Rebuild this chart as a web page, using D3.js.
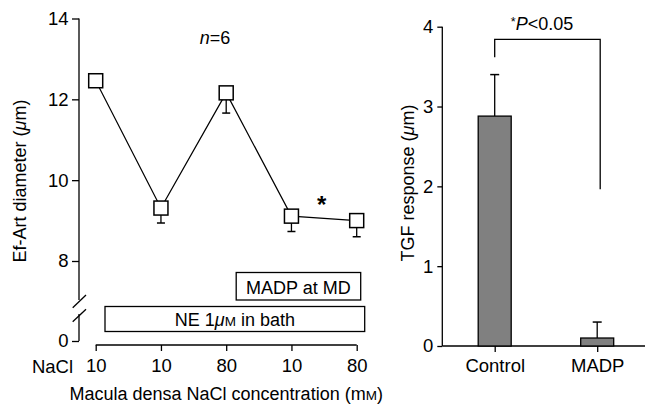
<!DOCTYPE html>
<html><head><meta charset="utf-8">
<script src="https://cdn.jsdelivr.net/npm/d3@7"></script>
<style>
html,body{margin:0;padding:0;background:#fff;}
svg text{font-family:"Liberation Sans",Arial,Helvetica,sans-serif;fill:#000;}
</style></head>
<body>
<svg id="c" width="645" height="404"></svg>
<script>
// ---- data ----
const naclLabels = ["10","10","80","10","80"];
const diameter = [12.46, 9.31, 12.16, 9.11, 9.0];
const diameterSem = [0.1, 0.37, 0.5, 0.38, 0.4];
const yTicksLeft = [0, 8, 10, 12, 14];
const groups = ["Control", "MADP"];
const tgf = [2.88, 0.1];
const tgfSem = [0.52, 0.2];
const yTicksRight = [0, 1, 2, 3, 4];

const svg = d3.select("#c");
const FS = 18.5;
const LF = 18;

// ---- left panel ----
const idx = d3.range(naclLabels.length);
const xL = d3.scalePoint().domain(idx).range([95.7, 356.7]);
const yL = d3.scaleLinear().domain([0, 8, 14]).range([341, 261, 18.5]);
const axisX = 79;

const gyL = svg.append("g").attr("transform", `translate(${axisX},0)`)
  .call(d3.axisLeft(yL).tickValues(yTicksLeft).tickSize(7).tickPadding(3.5).tickFormat(d3.format("d")));
gyL.select(".domain").remove();
gyL.selectAll(".tick line").attr("stroke", "#000").attr("stroke-width", 1.3);
gyL.selectAll(".tick text").attr("font-size", FS).attr("font-family", "Liberation Sans, Arial, sans-serif");
svg.append("line").attr("x1", axisX).attr("x2", axisX).attr("y1", yL(14)).attr("y2", 300)
  .attr("stroke", "#000").attr("stroke-width", 1.3);
svg.append("line").attr("x1", axisX).attr("x2", axisX).attr("y1", 314).attr("y2", yL(0))
  .attr("stroke", "#000").attr("stroke-width", 1.3);
[[307.7, 295], [321.7, 309.3]].forEach(([ya, yb]) => {
  svg.append("line").attr("x1", 72.7).attr("y1", ya).attr("x2", 86).attr("y2", yb)
    .attr("stroke", "#000").attr("stroke-width", 1.3);
});

const gxL = svg.append("g").attr("transform", "translate(0,345)")
  .call(d3.axisBottom(xL).tickSize(6).tickPadding(8).tickFormat(i => naclLabels[i]));
gxL.select(".domain").attr("stroke", "#000").attr("stroke-width", 1.3)
  .attr("d", `M${xL(0)},0H${xL(4)}`);
gxL.selectAll(".tick line").attr("stroke", "#000").attr("stroke-width", 1.3);
gxL.selectAll(".tick text").attr("font-size", FS).attr("font-family", "Liberation Sans, Arial, sans-serif");
svg.append("text").attr("x", 73).attr("y", 372.5).attr("text-anchor", "end")
  .attr("font-size", FS).text("NaCl");

const xt = svg.append("text").attr("x", xL(2)).attr("y", 400).attr("text-anchor", "middle")
  .attr("font-size", LF);
xt.append("tspan").text("Macula densa NaCl concentration (m");
xt.append("tspan").attr("font-size", 13.5).text("M");
xt.append("tspan").text(")");

const yt = svg.append("text").attr("transform", "translate(26,181) rotate(-90)")
  .attr("text-anchor", "middle").attr("font-size", LF);
yt.append("tspan").text("Ef-Art diameter (");
yt.append("tspan").attr("font-style", "italic").text("μ");
yt.append("tspan").text("m)");

// condition boxes
svg.append("rect").attr("x", xL(2) + 10).attr("y", 272.5).attr("width", 124.5).attr("height", 27.5)
  .attr("fill", "#fff").attr("stroke", "#000").attr("stroke-width", 1.3);
svg.append("text").attr("x", xL(2) + 10 + 62.2).attr("y", 294).attr("text-anchor", "middle")
  .attr("font-size", LF).text("MADP at MD");
svg.append("rect").attr("x", xL(0) + 9.3).attr("y", 306.5).attr("width", 259.7).attr("height", 25)
  .attr("fill", "#fff").attr("stroke", "#000").attr("stroke-width", 1.3);
const ne = svg.append("text").attr("x", (xL(0) + 9.3 + xL(0) + 269) / 2).attr("y", 326)
  .attr("text-anchor", "middle").attr("font-size", LF);
ne.append("tspan").text("NE 1");
ne.append("tspan").attr("font-style", "italic").text("μ");
ne.append("tspan").attr("font-size", 13.5).text("M");
ne.append("tspan").text(" in bath");

idx.forEach(i => {
  const cx = xL(i), y0 = yL(diameter[i]), y1 = yL(diameter[i] - diameterSem[i]);
  svg.append("line").attr("x1", cx).attr("x2", cx).attr("y1", y0).attr("y2", y1)
    .attr("stroke", "#000").attr("stroke-width", 1.3);
  svg.append("line").attr("x1", cx - 4).attr("x2", cx + 4).attr("y1", y1).attr("y2", y1)
    .attr("stroke", "#000").attr("stroke-width", 1.5);
});
svg.append("path").datum(idx)
  .attr("d", d3.line().x(i => xL(i)).y(i => yL(diameter[i])))
  .attr("fill", "none").attr("stroke", "#000").attr("stroke-width", 1.2);
svg.selectAll("rect.mk").data(idx).join("rect").attr("class", "mk")
  .attr("x", i => xL(i) - 7).attr("y", i => yL(diameter[i]) - 7)
  .attr("width", 14).attr("height", 14)
  .attr("fill", "#fff").attr("stroke", "#000").attr("stroke-width", 1.5);

const nt = svg.append("text").attr("x", 215).attr("y", 44).attr("text-anchor", "middle").attr("font-size", LF);
nt.append("tspan").attr("font-style", "italic").text("n");
nt.append("tspan").text("=6");
svg.append("text").attr("x", (xL(3) + xL(4)) / 2 - 2.5).attr("y", 213).attr("text-anchor", "middle")
  .attr("font-size", 24).attr("font-weight", "bold").text("*");

// ---- right panel ----
const xR = d3.scalePoint().domain(groups).range([494.7, 597.2]);
const yR = d3.scaleLinear().domain([0, 4]).range([346, 26.7]);
const rAxisX = 442.3;
const gyR = svg.append("g").attr("transform", `translate(${rAxisX},0)`)
  .call(d3.axisLeft(yR).tickValues(yTicksRight).tickSize(5).tickPadding(4).tickFormat(d3.format("d")));
gyR.select(".domain").attr("stroke", "#000").attr("stroke-width", 1.3)
  .attr("d", `M0,${yR(4)}V${yR(0)}`);
gyR.selectAll(".tick line").attr("stroke", "#000").attr("stroke-width", 1.3);
gyR.selectAll(".tick text").attr("font-size", FS).attr("font-family", "Liberation Sans, Arial, sans-serif");

const gxR = svg.append("g").attr("transform", `translate(0,${yR(0)})`)
  .call(d3.axisBottom(xR).tickSize(6).tickPadding(7));
gxR.select(".domain").attr("stroke", "#000").attr("stroke-width", 1.3)
  .attr("d", `M${rAxisX},0H645`);
gxR.selectAll(".tick line").attr("stroke", "#000").attr("stroke-width", 1.3);
gxR.selectAll(".tick text").attr("font-size", FS).attr("font-family", "Liberation Sans, Arial, sans-serif");

const bw = 33;
groups.forEach((g, i) => {
  const cx = xR(g);
  const yTop = yR(tgf[i] + tgfSem[i]);
  svg.append("line").attr("x1", cx).attr("x2", cx).attr("y1", yR(tgf[i])).attr("y2", yTop)
    .attr("stroke", "#000").attr("stroke-width", 1.3);
  svg.append("line").attr("x1", cx - 4.5).attr("x2", cx + 4.5).attr("y1", yTop).attr("y2", yTop)
    .attr("stroke", "#000").attr("stroke-width", 1.5);
  svg.append("rect").attr("x", cx - bw / 2).attr("y", yR(tgf[i])).attr("width", bw)
    .attr("height", yR(0) - yR(tgf[i]))
    .attr("fill", "#808080").attr("stroke", "#000").attr("stroke-width", 1.3);
});

svg.append("path")
  .attr("d", `M${xR("Control")},57.3V39.3H${xR("MADP") + 3}V189.3`)
  .attr("fill", "none").attr("stroke", "#000").attr("stroke-width", 1.3);
const pt = svg.append("text").attr("x", 542).attr("y", 30).attr("text-anchor", "middle").attr("font-size", LF);
pt.append("tspan").attr("font-size", 12.5).attr("dy", -4).text("*");
pt.append("tspan").attr("font-style", "italic").attr("dy", 4).text("P");
pt.append("tspan").text("<0.05");

const yt2 = svg.append("text").attr("transform", "translate(414,183) rotate(-90)")
  .attr("text-anchor", "middle").attr("font-size", LF);
yt2.append("tspan").text("TGF response (");
yt2.append("tspan").attr("font-style", "italic").text("μ");
yt2.append("tspan").text("m)");
</script>
</body></html>
